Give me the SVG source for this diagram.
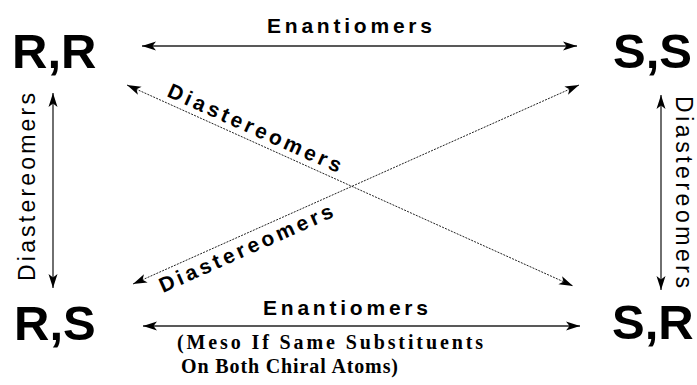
<svg xmlns="http://www.w3.org/2000/svg" width="697" height="385" viewBox="0 0 697 385">
  <style>
    .big { font-family: "Liberation Sans", Arial, sans-serif; font-weight: bold; font-size: 49px; fill: #000; }
    .enan { font-family: "Liberation Sans", Arial, sans-serif; font-weight: bold; font-size: 21px; fill: #000; }
    .vlab { font-family: "Liberation Sans", Arial, sans-serif; font-size: 23px; fill: #000; }
    .dlab { font-family: "Liberation Sans", Arial, sans-serif; font-weight: bold; font-size: 21px; fill: #000; }
    .note { font-family: "Liberation Serif", "Times New Roman", serif; font-weight: bold; font-size: 20px; fill: #000; }
    .solid { stroke: #222; stroke-width: 1.3; fill: none; }
    .dash { stroke: #222; stroke-width: 1; stroke-dasharray: 2 1.2; fill: none; }
  </style>
  <defs>
    <marker id="ah" viewBox="0 0 14 10" refX="14" refY="5" markerWidth="14" markerHeight="10" markerUnits="userSpaceOnUse" orient="auto-start-reverse">
      <path d="M0,0.5 L14,5 L0,9.5 L3.5,5 z" fill="#000"/>
    </marker>
  </defs>
  <rect width="697" height="385" fill="#fff"/>

  <g id="connectors">
    <line id="top-enantiomers" class="solid" x1="142" y1="46" x2="577" y2="46" marker-start="url(#ah)" marker-end="url(#ah)"/>
    <line id="bottom-enantiomers" class="solid" x1="143" y1="326" x2="580" y2="326" marker-start="url(#ah)" marker-end="url(#ah)"/>
    <line id="left-diast" class="solid" x1="53" y1="93" x2="53" y2="288" marker-start="url(#ah)" marker-end="url(#ah)"/>
    <line id="right-diast" class="solid" x1="661" y1="95" x2="661" y2="290" marker-start="url(#ah)" marker-end="url(#ah)"/>
    <line id="diag-rr-sr" class="dash" x1="127" y1="85" x2="573" y2="286" marker-start="url(#ah)" marker-end="url(#ah)"/>
    <line id="diag-rs-ss" class="dash" x1="133" y1="284" x2="579" y2="85" marker-start="url(#ah)" marker-end="url(#ah)"/>

    <text class="enan" x="267" y="33" textLength="165" lengthAdjust="spacing">Enantiomers</text>
    <text class="enan" x="263" y="315" textLength="165" lengthAdjust="spacing">Enantiomers</text>
    <text class="note" x="177" y="349" textLength="306" lengthAdjust="spacing">(Meso If Same Substituents</text>
    <text class="note" x="181" y="373" textLength="217" lengthAdjust="spacing">On Both Chiral Atoms)</text>
    <text class="vlab" transform="translate(35,281) rotate(-90)" textLength="188" lengthAdjust="spacing">Diastereomers</text>
    <text class="vlab" transform="translate(676,96) rotate(90)" textLength="192" lengthAdjust="spacing">Diastereomers</text>
    <text class="dlab" transform="translate(166,96) rotate(24.15)" textLength="188" lengthAdjust="spacing">Diastereomers</text>
    <text class="dlab" transform="translate(163,293) rotate(-24)" textLength="188" lengthAdjust="spacing">Diastereomers</text>
  </g>

  <g id="node-RR"><text class="big" x="12" y="68">R,R</text></g>
  <g id="node-SS"><text class="big" x="613" y="68">S,S</text></g>
  <g id="node-RS"><text class="big" x="14" y="340">R,S</text></g>
  <g id="node-SR"><text class="big" x="612" y="339">S,R</text></g>
</svg>
